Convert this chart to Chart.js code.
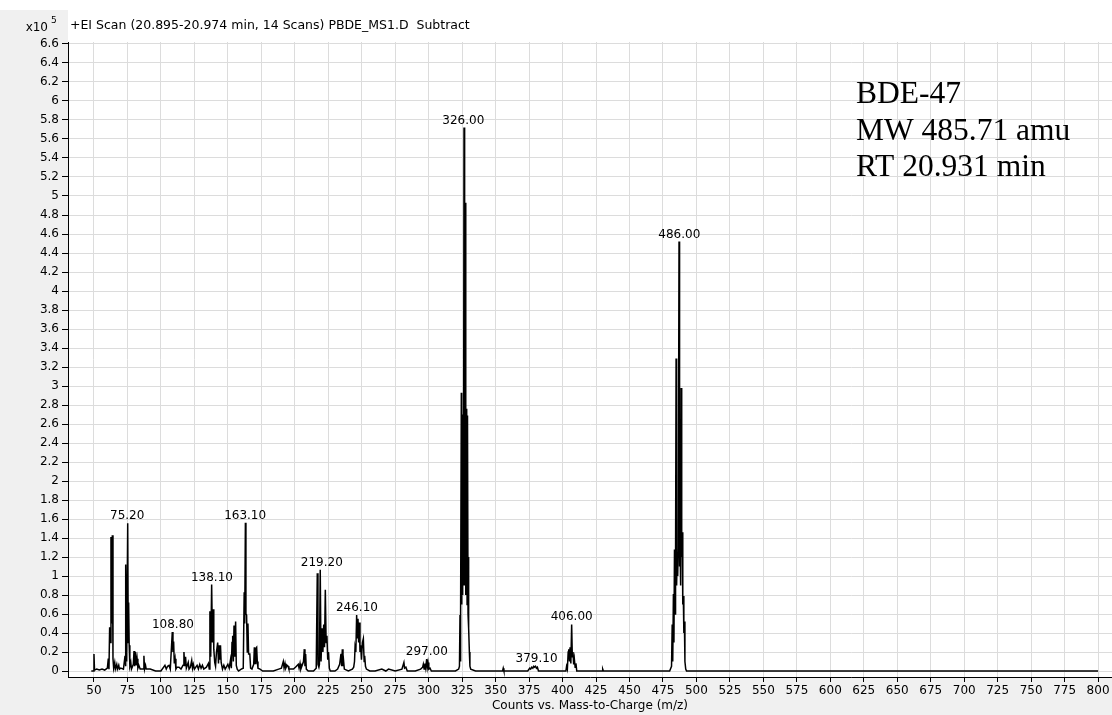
<!DOCTYPE html>
<html>
<head>
<meta charset="utf-8">
<title>BDE-47 EI spectrum</title>
<script src="https://cdn.jsdelivr.net/npm/chart.js@4/dist/chart.umd.min.js"></script>
<style>
  html, body { margin: 0; padding: 0; background: #f0f0f0; }
  #wrap { position: relative; width: 1112px; height: 715px; }
</style>
</head>
<body>
<div id="wrap"><canvas id="spectrum"></canvas></div>
<script>
// Spectrum profile (m/z vs counts, x10^5)
const mz = [
  48, 49.6, 50, 50.4, 52, 54, 56, 58, 60, 60.7, 61.2, 61.7, 62.2, 62.7, 63.2, 63.7, 64.2, 64.7, 65.5, 66, 67, 67.5, 68.5, 69, 70, 72,
  73.2, 73.5, 73.9, 74.4, 75.2, 75.6, 75.9, 76.3, 76.8, 77.5, 78, 79.4, 79.9, 80.4, 81.1, 81.6, 82.2, 82.8, 83.5, 84.5, 86.8, 87.3, 87.8, 88.5, 89, 92,
  96, 100, 103, 104, 105, 106, 107, 108.5, 109, 109.5, 110, 110.6, 111.2, 112, 113.5, 115, 116.5, 117.2, 117.8, 118.4, 119, 120.4, 121, 122, 123, 123.6, 124.2, 125, 127, 128, 129, 130, 131, 132, 134,
  135.5, 136.1, 136.6, 137.2, 137.9, 138.5, 139, 139.5, 140.2, 140.8, 141.5, 142.4, 143, 143.5, 144, 144.5, 145, 146, 147, 148, 150, 151, 152, 152.6, 153.1, 153.6, 154.1, 154.6, 155.1, 155.8, 156.3, 157, 158, 160, 161.5,
  162.2, 162.6, 163.1, 163.5, 164, 164.5, 165, 165.5, 166.4, 167, 168, 169.3, 169.8, 170.4, 170.9, 171.5, 172, 172.5, 174, 176,
  180, 184, 188, 190, 191.4, 192, 192.7, 193.3, 194.2, 195, 195.6, 197, 199, 200.5, 202.6, 203.2, 203.9, 204.5, 206.5, 207.1, 207.6, 208.1, 208.6, 210, 214,
  216, 216.8, 217.3, 218, 218.4, 219, 219.6, 220.4, 221, 221.6, 222.2, 222.8, 223.4, 224, 224.6, 225.2, 225.8, 226.5, 230, 232,
  233.5, 234.5, 235, 235.5, 236, 236.5, 237, 240, 243, 244, 244.6, 245, 245.6, 246.2, 246.7, 247.2, 247.7, 248.2, 248.7, 249.2,
  249.8, 250.5, 251.2, 251.8, 252.2, 252.8, 253.5, 256, 260,
  265, 268, 270, 275, 280, 281.5, 282, 283, 284, 290, 294, 295.5, 296, 296.6, 297.2, 297.8, 298.5, 299, 299.5, 300.1, 301, 302, 310, 316, 320,
  322.4, 323, 323.4, 323.7, 324, 324.4, 324.7, 325, 325.4, 325.7, 326, 326.4, 326.7, 327, 327.4, 327.7, 328, 328.4, 328.7, 329, 329.4, 329.7, 330, 330.4, 330.8, 331.4,
  335, 340, 346, 350, 355.2, 355.7, 356.2, 360, 365, 370, 374, 375.5, 376.2, 377, 377.8, 378.5, 379.1, 379.8, 380.5, 381.2,
  382, 390, 398, 402.5, 403, 403.6, 404.2, 404.6, 405.2, 405.6, 406.2, 406.8, 407.3, 407.8, 408.3, 408.8, 409.4, 410, 410.6, 412,
  420, 429.5, 430, 430.5, 440, 455, 470, 480,
  481.4, 481.9, 482.3, 482.8, 483.2, 483.6, 484, 484.4, 484.8, 485.2, 485.6, 486, 486.4, 487, 487.4, 487.8, 488.2, 488.6, 489, 489.4,
  489.8, 490.2, 490.6, 491, 491.4, 492, 492.6,
  500, 600, 700, 800
];
const counts = [
  0, 0, 0.18, 0.01, 0.02, 0.01, 0.02, 0.01, 0.03, 0.13, 0.02, 0.46, 0.3, 1.41, 0.5, 1.43, 0.13, 0.03, 0.09, 0.02, 0.07, 0.02, 0.06, 0.02, 0.03, 0.02,
  0.16, 0.05, 1.12, 0.1, 1.556, 0.3, 0.72, 0.27, 0.05, 0.09, 0.02, 0.07, 0.21, 0.05, 0.2, 0.06, 0.13, 0.03, 0.06, 0.02, 0.02, 0.16, 0.02, 0.06, 0.02, 0.02,
  0, 0, 0.06, 0.02, 0.05, 0.06, 0.02, 0.41, 0.2, 0.31, 0.08, 0.13, 0.02, 0.04, 0.04, 0.02, 0.06, 0.2, 0.05, 0.15, 0.03, 0.09, 0.02, 0.04, 0.11, 0.03, 0.07, 0.02, 0.06, 0.02, 0.07, 0.03, 0.06, 0.02, 0.04,
  0.08, 0.02, 0.63, 0.15, 0.91, 0.3, 0.65, 0.23, 0.09, 0.05, 0.2, 0.3, 0.08, 0.27, 0.12, 0.27, 0.09, 0.02, 0.06, 0.02, 0.07, 0.03, 0.12, 0.03, 0.3, 0.37, 0.1, 0.48, 0.15, 0.52, 0.06, 0.02, 0, 0.02, 0.03,
  0.83, 0.5, 1.56, 0.6, 0.59, 0.2, 0.5, 0.18, 0.18, 0.03, 0.02, 0.07, 0.25, 0.08, 0.24, 0.25, 0.1, 0.03, 0.02, 0,
  0, 0, 0.02, 0.03, 0.1, 0.03, 0.08, 0.03, 0.06, 0.05, 0.02, 0.02, 0.02, 0.04, 0.07, 0.03, 0.08, 0.02, 0.1, 0.23, 0.05, 0.18, 0.02, 0, 0,
  0.03, 1.03, 0.07, 0.04, 0.07, 1.065, 0.1, 0.45, 0.2, 0.49, 0.25, 0.855, 0.3, 0.37, 0.12, 0.2, 0.03, 0, 0, 0.02,
  0.07, 0.18, 0.05, 0.23, 0.05, 0.1, 0.02, 0, 0.02, 0.04, 0.1, 0.25, 0.2, 0.59, 0.35, 0.55, 0.3, 0.51, 0.2, 0.27,
  0.12, 0.3, 0.34, 0.1, 0.16, 0.05, 0.02, 0, 0,
  0.02, 0, 0.02, 0, 0.02, 0.09, 0.03, 0.04, 0, 0, 0.02, 0.04, 0.07, 0.02, 0.08, 0.03, 0.126, 0.04, 0.09, 0.02, 0.03, 0, 0, 0, 0,
  0.02, 0.05, 0.59, 0.1, 0.6, 2.93, 0.7, 2.6, 0.8, 2.7, 0.9, 5.72, 0.9, 2.75, 4.93, 0.8, 2.6, 2.76, 0.7, 2.69, 0.6, 1.2, 0.45, 0.2, 0.05, 0.02,
  0, 0, 0, 0, 0, 0.03, 0, 0, 0, 0, 0, 0.03, 0.02, 0.04, 0.03, 0.05, 0.04, 0.05, 0.03, 0.04,
  0, 0, 0, 0, 0.05, 0.02, 0.2, 0.23, 0.1, 0.25, 0.08, 0.49, 0.15, 0.2, 0.07, 0.13, 0.04, 0.08, 0, 0,
  0, 0, 0.02, 0, 0, 0, 0, 0,
  0.05, 0.49, 0.1, 0.81, 0.3, 1.28, 0.6, 1.1, 3.29, 0.9, 1.2, 1.0, 1.3, 4.52, 1.1, 1.4, 0.9, 2.98, 1.2, 1.46,
  0.7, 0.79, 0.4, 0.52, 0.1, 0.02, 0,
  0, 0, 0, 0
];

// Peak annotations: text, where it sits (m/z) and the peak top it sits on
const peakLabels = ['75.20', '108.80', '138.10', '163.10', '219.20', '246.10', '297.00', '326.00', '379.10', '406.00', '486.00'];
const peakLabelMz = [74.8, 109.0, 138.1, 162.9, 220.2, 246.4, 298.6, 325.9, 380.6, 406.8, 487.2];
const peakLabelTop = [1.556, 0.41, 0.91, 1.56, 1.065, 0.59, 0.126, 5.72, 0.05, 0.49, 4.52];

// Axis ticks
const xTicks = [50, 75, 100, 125, 150, 175, 200, 225, 250, 275, 300, 325, 350, 375, 400, 425, 450, 475,
  500, 525, 550, 575, 600, 625, 650, 675, 700, 725, 750, 775, 800];
const yTicks = [0, 0.2, 0.4, 0.6, 0.8, 1, 1.2, 1.4, 1.6, 1.8, 2, 2.2, 2.4, 2.6, 2.8, 3, 3.2, 3.4, 3.6, 3.8,
  4, 4.2, 4.4, 4.6, 4.8, 5, 5.2, 5.4, 5.6, 5.8, 6, 6.2, 6.4, 6.6];

const titleText = '+EI Scan (20.895-20.974 min, 14 Scans) PBDE_MS1.D  Subtract';
const xTitle = 'Counts vs. Mass-to-Charge (m/z)';
const noteLines = ['BDE-47', 'MW 485.71 amu', 'RT 20.931 min'];

const sans = '"DejaVu Sans", Verdana, sans-serif';

// Backgrounds and extra texts
const decorations = {
  id: 'decorations',
  beforeDraw(chart) {
    const ctx = chart.ctx;
    const a = chart.chartArea;
    ctx.save();
    ctx.fillStyle = '#f0f0f0';
    ctx.fillRect(0, 0, chart.width, chart.height);
    ctx.fillStyle = '#ffffff';
    ctx.fillRect(0, 0, chart.width, 10);
    ctx.fillRect(a.left, 10, chart.width - a.left, a.bottom - 10);
    ctx.restore();
  },
  afterDraw(chart) {
    const ctx = chart.ctx;
    const x = chart.scales.x;
    const y = chart.scales.y;
    const a = chart.chartArea;
    ctx.save();
    ctx.fillStyle = '#000';

    // title and multiplier
    ctx.font = '12.5px ' + sans;
    ctx.textBaseline = 'middle';
    ctx.textAlign = 'left';
    ctx.fillText(titleText, 70, 26);
    ctx.font = '12px ' + sans;
    ctx.textAlign = 'right';
    ctx.fillText('x10', 48, 28);
    ctx.font = '9px ' + sans;
    ctx.textAlign = 'left';
    ctx.fillText('5', 51, 21);

    // x axis title
    ctx.font = '12px ' + sans;
    ctx.textAlign = 'center';
    ctx.fillText(xTitle, (a.left + a.right) / 2, 706);

    // peak labels
    ctx.textBaseline = 'alphabetic';
    peakLabels.forEach((t, i) => {
      ctx.fillText(t, x.getPixelForValue(peakLabelMz[i]), y.getPixelForValue(peakLabelTop[i]) - 4);
    });

    // compound note
    ctx.font = '31.5px "Liberation Serif", "Times New Roman", serif';
    ctx.textAlign = 'left';
    noteLines.forEach((t, i) => {
      ctx.fillText(t, 856, 103 + i * 36.7);
    });
    ctx.restore();
  }
};

const points = mz.map((m, i) => ({ x: m, y: counts[i] }));

new Chart(document.getElementById('spectrum'), {
  type: 'line',
  data: {
    datasets: [{
      data: points,
      borderColor: '#000',
      borderWidth: 1.5,
      pointRadius: 0,
      tension: 0,
      fill: false
    }]
  },
  options: {
    responsive: true,
    maintainAspectRatio: false,
    animation: false,
    devicePixelRatio: 1,
    layout: { padding: { top: 42, right: 0, left: 0, bottom: 0 } },
    plugins: {
      legend: { display: false },
      tooltip: { enabled: false }
    },
    scales: {
      x: {
        type: 'linear',
        min: 30.6,
        max: 810.4,
        afterBuildTicks: (s) => { s.ticks = xTicks.map(v => ({ value: v })); },
        afterFit: (s) => { s.height = 38; },
        grid: { color: '#dcdcdc', tickColor: '#000', tickLength: 5, lineWidth: 1 },
        border: { color: '#000', width: 1 },
        ticks: {
          autoSkip: false,
          maxRotation: 0,
          padding: 2,
          color: '#000',
          font: { family: sans, size: 12 },
          callback: (v) => String(v)
        }
      },
      y: {
        type: 'linear',
        min: -0.063,
        max: 6.621,
        afterBuildTicks: (s) => { s.ticks = yTicks.map(v => ({ value: v })); },
        afterFit: (s) => { s.width = 68; },
        grid: { color: '#dcdcdc', tickColor: '#000', tickLength: 6, lineWidth: 1 },
        border: { color: '#000', width: 1 },
        ticks: {
          autoSkip: false,
          padding: 3,
          color: '#000',
          font: { family: sans, size: 12 },
          callback: (v) => String(Number(v.toFixed(1)))
        }
      }
    }
  },
  plugins: [decorations]
});
</script>
</body>
</html>
